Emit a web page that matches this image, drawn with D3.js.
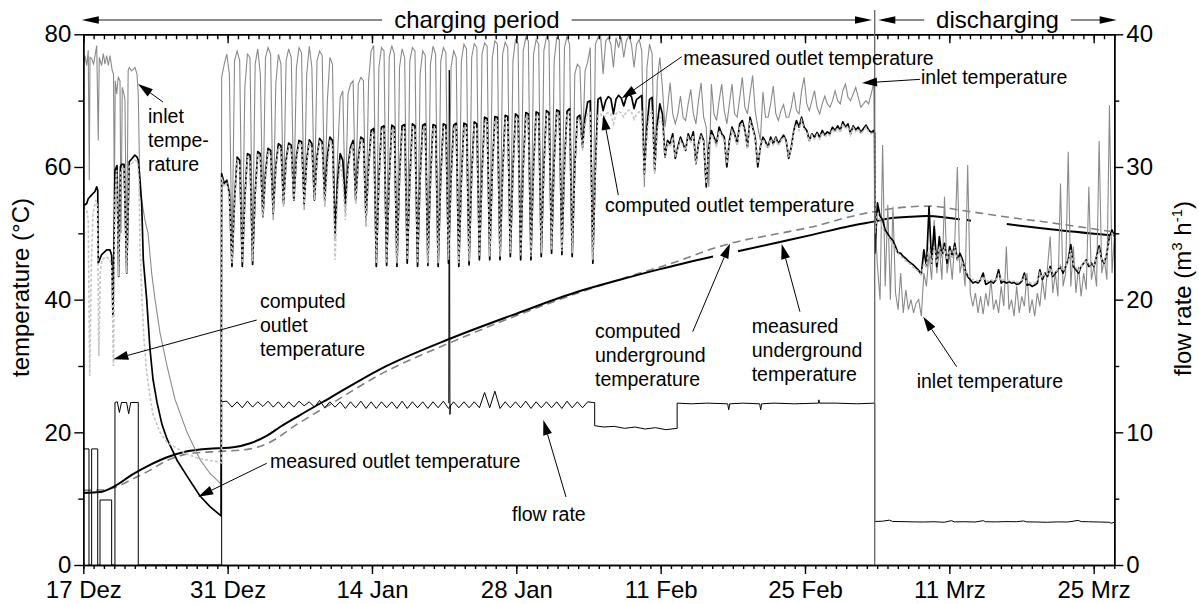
<!DOCTYPE html>
<html>
<head>
<meta charset="utf-8">
<script src="https://cdn.jsdelivr.net/npm/d3@7"></script>
<style>
body{margin:0;background:#fff;}
svg{display:block;font-family:"Liberation Sans",Arial,sans-serif;}
</style>
</head>
<body>
<svg id="chart" width="1199" height="604"></svg>
<script>
// axis ticks (x in days since 17 Dez)
var tickDays = [0, 14, 28, 42, 56, 70, 84, 98];
var tickLabels = ["17 Dez", "31 Dez", "14 Jan", "28 Jan", "11 Feb", "25 Feb", "11 Mrz", "25 Mrz"];
var tempTicks = [0, 20, 40, 60, 80];
var tempMinor = [10, 30, 50, 70];
var flowTicks = [0, 10, 20, 30, 40];
var flowMinor = [5, 15, 25, 35];

// periods (days)
var chargeEnd = 76.76;
var chargeStart = 13.42, chargeStep = 0.25;       // 4 samples per day
var dischargeStart = 76.78, dischargeStep = 0.25;
var sawStart = 13.42, sawStep = 0.5;              // flow sawtooth

// ---- first days [day, value] ----
var inletStart = [[0.02,75.5],[0.16,76.8],[0.33,75.3],[0.48,77.6],[0.58,58],[0.65,76.5],[0.81,76.3],[1.0,75.5],
  [1.3,78.3],[1.45,64],[1.55,76.5],[1.78,75.3],[1.94,77.1],[2.1,75.5],[2.27,76.8],[2.43,75.3],[2.59,76.8],
  [2.81,74.5],[2.93,74],[3.01,55],[3.1,73],[3.24,71],[3.39,73.5],[3.56,73],[3.66,50],[3.78,72],[3.95,71],
  [4.04,70],[4.21,45],[4.35,74.5],[4.46,75],[4.69,74.5],[5.01,75],[5.21,74],[5.33,71],[5.5,56],[5.66,55],
  [5.98,52],[6.28,50],[6.63,44],[6.96,40],[7.44,35],[8.12,30],[8.89,25],[10.06,20],[11.32,15.9],[12.29,13.8],[13.36,12.2]];

var outletStart = [[0.0,54],[0.16,54.3],[0.33,54.5],[0.48,55.2],[0.81,55.8],[1.13,56.3],[1.3,57],[1.4,56.5],
  [1.45,45.5],[1.78,46.8],[2.27,47.5],[2.59,47.5],[2.75,46.7],[2.88,37.5],[3.07,59.5],[3.27,60.2],[3.43,43.5],
  [3.6,60],[3.72,60.4],[3.95,60.4],[4.21,44],[4.46,60.8],[4.69,61.2],[5.01,61.8],[5.21,61.5],[5.33,61],
  [5.5,58],[5.66,54.6],[5.82,46],[6.15,40],[6.47,32.5],[6.76,28],[7.15,24.5],[7.63,21.2],[8.12,19],
  [9.09,15.8],[10.06,13.4],[11.32,10.4],[12.29,8.8],[13.36,7.4]];

var computedStart = [[0.0,54],[0.33,53.5],[0.48,52],[0.62,28.5],[0.78,45],[0.94,53],[1.23,55],[1.38,54],
  [1.5,31.5],[1.65,44],[1.81,46],[2.2,46.5],[2.59,46],[2.75,45],[2.93,30],[3.07,55],[3.24,59.5],[3.43,43.5],
  [3.62,59.5],[3.95,60],[4.21,44],[4.43,60],[4.69,60.5],[5.01,61],[5.26,60.8],[5.4,58],[5.5,48],[5.69,40],
  [5.89,34],[6.15,29],[6.47,25.5],[6.76,22.7],[7.44,20],[8.12,18.5],[10.06,16.7],[11.32,16],[13.26,15.5],[13.4,15.4]];

// ---- charging period, 4 samples per day (dip, rise, plateau, plateau) ----
var inletCharge = [
  73.5,75.5,77,74,  46,76,77.5,76,  46,72,77,76.5,  47,75.5,77.8,74,
  53,76.5,78,77,  52,72.5,77,75.5,  54,76,77.8,76.5,  55,75,78,77.2,
  53.5,74,78.2,75,  55,76,77.5,76.8,  54,70,76.5,75.5,  49,62,70.5,71.5,
  53,71,72.5,73,  54.5,72.5,73.5,73,  51,73,77.5,78.3,  45,75,78,77.5,
  45,76.5,78.3,77,  45,75,77.8,76.5,  45.5,76,78,77.5,  45,74,77.5,76.8,
  45,75.5,78.2,77,  45,76,78,77.2,  45.5,75,77.5,76.5,  45,76,78.5,77.8,
  45,76.5,78.6,78,  46,77,78.7,78.2,  46,76.5,79,78.5,  46,77,78.8,78,
  46.5,76,79.2,78.6,  46,77.5,79.5,79,  46,77,79.2,78.5,  46.5,77.5,79.6,79,
  47,76,79.5,79.2,  46.8,78,79.7,78.5,  46.5,74,75.5,75,  63,74.5,75.8,78,
  45.5,78.5,79.5,79.8,  74,79,79.5,78.5,  75,79.5,78,79.6,  76.5,79,79.8,78.5,
  75,78.5,79.2,77.5,  57,75,78.5,77,  59,73,76.5,72,  66,69,72.7,68,
  66.5,68,70.7,67.5,  67,69.5,71.7,68,  66.5,70,72.7,67.5,  66,57,72.5,68,
  67,70,72.5,68.5,  66.5,69.5,72.5,68,  67.5,70.5,73.5,69,  68,71,73.8,68.5,
  66,64,71.3,67.5,  67.5,69.5,72.2,68,  67,68.5,69.4,67.5,  67.5,69,71.3,68.5,
  68,71.5,73.5,69.5,  68.5,70,71.5,69,  68,69.5,70.7,69.5,  69,70,71.5,70,
  69.5,71.5,72.5,70.5,  70,71,72,70.5,  69,69.5,70,69.5,  71,72.7];

var outletCharge = [
  59,57.5,58,56,  45,55,61.5,61,  45,55.5,62,61.8,  45.3,56,62.3,62,
  52.5,59,62.8,62.5,  53,60,63.5,63.2,  54.5,61,63.6,63.3,  55,61.5,64,63.8,
  54.5,61,64.1,63.5,  55,61.5,64.3,63.8,  55,61.5,64.5,64,  50,58,62,61,
  54.5,60,63,64,  55,61,64.5,64.2,  52,60,65.5,65.8,  45,58,66,66.2,
  45.2,58,66.3,66,  45,58.5,66.2,66.4,  45.5,58,66.5,66.2,  45,58.5,66.3,66.5,
  45.2,58,66.4,66.2,  45,58.5,66.5,66.3,  45.5,58.5,66.3,66.6,  45,58,66.6,66.4,
  45.3,59,66.8,66.5,  46,59,67.5,67.3,  46,59.5,67.6,67.5,  46,59,67.8,67.6,
  46.5,59.5,68,67.7,  46,60,68.2,68,  46,60,68.3,68.1,  46.5,60,68.5,68.2,
  47,61,68.6,68.4,  46.8,60.5,68.4,68.8,  46.5,60,67.5,67.8,  63,67.5,69.8,70,
  45.5,60,70.2,70.5,  68.5,70,70.6,70.3,  68,70.2,70.8,70.4,  69.2,70.5,71,70.6,
  68.8,70.2,70.5,70.8,  59,66,70.2,70.5,  59.5,66.5,69.5,68,  61.5,64,63.5,65,
  61.3,63,64.5,63.5,  62.5,65,64,65.3,  60.5,63.5,65,64,  57,63,65.5,64.5,
  63.5,66,65,64.5,  60,64,66,65,  63.5,66.5,67,65.5,  63,67.5,66,64.5,
  60,63,64.5,63.8,  63,64.5,63.5,64.5,  63.5,64.2,64.8,64,  61.3,63,65.5,67,
  66,67.5,66,65.5,  64,65,64.5,65.2,  64.5,65.5,64.8,65.3,  65,66,65.5,66.2,
  65.5,66.8,66,66.5,  65,66.2,65.6,66,  65.2,65.8,66.3,65.6,  65.2,65.5];

var computedCharge = [
  58.5,57,57.5,55.5,  45.5,54.5,61,60.5,  45.5,55,61.5,61.2,  45.8,55.5,61.8,61.5,
  52.5,58.5,62.3,62,  53,59.5,63,62.7,  54,60.5,63.1,62.8,  55,61,63.5,63.3,
  54.5,60.5,63.6,63,  55,61,63.8,63.3,  54,60,63.8,63.2,  46,56,61,58,
  52,59,62.5,63.5,  54.5,60.5,64,63.7,  51.5,59.5,65,65.3,  45.5,57.5,65.5,65.7,
  45.5,57.5,65.8,65.5,  45.5,58,65.7,65.9,  46,57.5,66,65.7,  45.5,58,65.8,66,
  45.5,57.5,65.9,65.7,  45.5,58,66,65.8,  46,58,65.8,66.1,  45.5,57.5,66.1,65.9,
  45.8,58.5,66.3,66,  46.5,58.5,67,66.8,  46.5,59,67.1,67,  46.5,58.5,67.3,67.1,
  47,59,67.5,67.2,  46.5,59.5,67.7,67.5,  46.5,59.5,67.8,67.6,  47,59.5,68,67.7,
  47.5,60.5,68.1,67.9,  47.3,60,67.9,68.3,  47,59.5,67,67.3,  62.5,66.5,68,68.2,
  46,59.5,67.8,68,  67,68,68.2,68,  66.5,68,68.4,68.1,  67.5,68.3,68.6,68.3,
  67.2,68,68.3,68.5,  58.5,65,68,68.3,  59,65.5,67.5,66.5,  61.5,63.5,63,64.5,
  61.5,62.8,64,63.2,  62.5,64.5,63.8,64.8,  60.5,63.2,64.6,63.8,  57.5,62.5,65,64.2,
  63,65.5,64.7,64.2,  60.5,63.5,65.5,64.7,  63.2,66,66.5,65.2,  62.8,67,65.7,64.2,
  60.5,62.8,64.2,63.5,  62.8,64.2,63.3,64.2,  63.2,64,64.5,63.8,  61.5,62.8,65.2,66.5,
  65.5,67,65.7,65.2,  63.8,64.8,64.2,64.9,  64.2,65.2,64.5,65,  64.7,65.7,65.2,65.9,
  65.2,66.5,65.7,66.2,  64.8,65.9,65.3,65.7,  65,65.5,66,65.3,  65,65.2];

// ---- discharging period, 4 samples per day ----
var inletDischarge = [52,45,40,63.3,42,54.3,40,54,41,38.5,44,38,41.5,38.5,40,38,39.5,40,37.5,44,
  42,47,43,52,44,48,43,55.5,44,47,43,49,60,44,46,42,60.3,41,39,41,
  38,40.5,37.8,41,39,43,38.5,40,38,42,39,48,38.5,40,37.5,42,38,40.5,39,44,
  38,40,37.5,41,39,43,40,45,49.5,41,44,40.5,57.5,42,44,62.3,42,48,41,45,
  40.5,44,41.5,57,43,45,42,63.9,44,46,43,69.3,44,50];

var outletDischarge = [47,54.6,52.6,52,50.5,49.9,49.3,48.9,48,47,47,46.5,46.2,45.8,45.5,45.2,44.8,44.4,43.8,47.5,
  45,54,45.5,51,45,49.5,46.5,48.5,45.5,48,46.5,48.5,46,47,46,44.5,43.5,43,42.5,42.7,
  42.5,43,44,42.3,42.5,42.8,42.5,43,44.5,42.5,42.8,42.5,42.7,42.5,42.6,42.3,42.4,42.8,44,42.2,
  42.3,42,42.2,42.5,44.5,43,44,43.5,45,43.5,44,44.5,45,44,45,46,48.3,45,44.5,44,
  45,45.5,46,45,45.5,45,46.5,48.1,46,45.5,47,49.5,50.5,49.5];

var computedDischarge = [50,53,52,51,50,49.5,49,48.5,47.5,47,46.5,46.2,45.8,45.5,45.2,44.8,44.5,44.2,43.8,45.5,
  45,48,45.5,48,45.5,48,46.5,48,46,47.5,46.5,48,46,46.5,45.5,44.5,43.8,43.3,43,43,
  42.8,43,43.5,42.8,42.8,43,42.8,43,43.8,42.8,43,42.8,42.9,42.7,42.8,42.6,42.7,43,43.5,42.5,
  42.6,42.4,42.5,42.8,44,43.3,44,43.8,44.8,43.8,44.2,44.5,45.2,44.3,45,45.8,47.5,45.3,44.8,44.3,
  45,45.5,46,45.2,45.5,45.2,46.3,47.5,46,45.7,47,49,50,49.5];

// ---- underground temperatures [day, value], null = gap ----
var measuredUnder = [[0,10.85],[1.62,11.0],[2.88,11.75],[4.82,13.7],[6.47,15.1],[8.12,16.25],[9.67,17.0],
  [11.32,17.4],[13.0,17.6],[14.55,17.75],[16.2,18.35],[17.82,19.5],[19.08,20.8],[21.02,22.6],[23.93,25.2],
  [28.77,29.5],[35.56,34.1],[41.68,37.7],[48.17,41.3],[52.05,43.0],[55.94,44.6],[61.08,46.5],[61.3,null],
  [63.5,47.3],[67.57,48.7],[70.78,49.8],[74.37,51.1],[76.79,51.8],[78.44,52.3],[80.18,52.5],[81.83,52.6],
  [83.58,52.4],[85.03,52.1],[85.3,null],[85.7,52.0],[86.1,51.9],[86.3,null],[89.57,51.4],[93.8,50.6],[99.6,49.7]];

var computedUnder = [[0,11.25],[1.62,11.3],[2.88,11.6],[4.82,13.0],[6.47,14.3],[8.12,15.75],[9.67,16.6],
  [11.32,16.95],[13.0,17.1],[16.2,17.5],[17.82,18.3],[21.02,21.5],[23.93,24.2],[28.77,28.7],[35.56,33.5],
  [41.68,37.4],[48.17,41.1],[52.73,43.4],[57.87,45.9],[61.08,47.7],[62.73,48.46],[67.57,50.0],[70.78,51.0],
  [74.37,52.5],[76.79,53.3],[80.18,54.0],[82.12,54.1],[85.03,53.5],[88.91,52.6],[93.8,51.6],[99.6,50.3]];

// ---- flow rate (m3/h) ----
var flowStart = [[0.02,0],[0.02,8.75],[0.55,8.75],[0.55,0],[0.81,0],[0.81,8.75],[1.4,8.75],[1.4,0],
  [1.62,0],[1.62,4.9],[2.75,4.9],[2.75,0],[3.07,0],[3.07,12.25],[3.3,12.3],[3.5,11.5],[3.7,12.25],
  [4.2,12.25],[4.4,11.4],[4.6,12.25],[5.33,12.25],[5.33,0],[13.42,0]];
var flowSaw = [12.3,12.35, 11.9,12.3, 11.85,12.35, 11.9,12.3, 11.95,12.35, 11.9,12.3, 11.85,12.3,
  11.9,12.35, 12.0,12.3, 11.9,12.4, 11.85,12.3, 11.9,12.3, 11.8,12.3, 11.85,12.35, 11.8,12.3,
  11.8,12.3, 11.85,12.3, 11.8,12.35, 11.8,12.3, 11.85,12.3, 11.8,12.3, 11.85,12.35, 11.8,12.3,
  11.85,12.3, 11.85,12.3, 11.85,13.0, 11.85,13.1, 11.8,12.3, 11.85,12.3, 11.85,12.35, 11.8,12.3,
  11.85,12.3, 11.85,12.3, 11.8,12.35, 11.85,12.3, 11.85,12.3, 12.25];
var flowSpike = [[35.45,12.2],[35.5,37.3],[35.56,11.35],[35.62,12.1]];
var flowLate = [[49.6,12.25],[49.6,10.5],[50.5,10.4],[51.5,10.45],[52.5,10.3],[53.5,10.4],[54.5,10.25],
  [55.5,10.35],[56.5,10.2],[57.6,10.3],[57.6,12.2],[59,12.15],[60.5,12.2],[62.5,12.15],[62.6,11.7],
  [62.7,12.15],[64,12.2],[65.6,12.15],[65.7,11.7],[65.8,12.15],[67,12.2],[69,12.15],[71.3,12.2],
  [71.35,12.45],[71.4,12.2],[73,12.2],[75,12.15],[76.76,12.2],[76.76,3.28],[77.5,3.3],[78.2,3.38],
  [78.5,3.28],[79.5,3.27],[80.5,3.25],[81.5,3.24],[82.5,3.26],[83.5,3.22],[84.2,3.34],[84.5,3.25],
  [85.5,3.26],[86.5,3.24],[87.3,3.34],[87.5,3.26],[88.5,3.25],[89.5,3.27],[90.5,3.26],[91.2,3.32],
  [91.5,3.25],[92.5,3.24],[93.5,3.22],[94.5,3.25],[95.5,3.24],[96.5,3.36],[96.8,3.27],[97.5,3.26],
  [98.5,3.24],[99.5,3.22],[99.7,3.15],[100,3.22]];

// ---- annotations: text lines, text anchor [day, temp], arrow tail and tip [day, temp] ----
var notes = [
  {lines:["inlet","tempe-","rature"], at:[6.28,66.63], from:[7.73,69.79], to:[5.31,72.5]},
  {lines:["computed","outlet","temperature"], at:[17.14,38.74], from:[16.82,36.93], to:[2.91,31.0]},
  {lines:["measured outlet temperature"], at:[18.11,14.62], from:[17.79,15.33], to:[11.15,10.3]},
  {lines:["flow rate"], at:[41.58,6.63], from:[46.82,10.25], to:[44.62,21.86]},
  {lines:["computed","underground","temperature"], at:[49.63,34.17], from:[59.11,35.17], to:[62.73,48.46]},
  {lines:["measured","underground","temperature"], at:[64.83,35.02], from:[69.51,38.18], to:[67.74,48.39]},
  {lines:["computed outlet temperature"], at:[50.6,53.26], from:[51.89,55.77], to:[50.44,67.83]},
  {lines:["measured outlet temperature"], at:[58.2,75.37], from:[58.04,76.62], to:[52.22,70.35]},
  {lines:["inlet temperature"], at:[81.25,72.5], from:[81.15,73.21], to:[75.53,72.66]},
  {lines:["inlet temperature"], at:[80.83,26.64], from:[84.71,29.89], to:[81.47,37.43]}
];

var svg = d3.select("#chart");
var m = {left: 83.3, right: 1114.3, top: 34.3, bottom: 565};
var x = d3.scaleLinear().domain([0, 100]).range([m.left, m.right]);
var yT = d3.scaleLinear().domain([0, 80]).range([m.bottom, m.top]);
var yF = d3.scaleLinear().domain([0, 40]).range([m.bottom, m.top]);

function stepPairs(start, step, vals) {
  return vals.map(function(v, i) { return [start + i * step, v]; });
}

var inletAll = inletStart.concat(stepPairs(chargeStart, chargeStep, inletCharge), stepPairs(dischargeStart, dischargeStep, inletDischarge));
var outletAll = outletStart.concat(stepPairs(chargeStart, chargeStep, outletCharge), [[chargeEnd, 65]], stepPairs(dischargeStart, dischargeStep, outletDischarge));
var computedAll = computedStart.concat(stepPairs(chargeStart, chargeStep, computedCharge), [[chargeEnd, 64.8]], stepPairs(dischargeStart, dischargeStep, computedDischarge));
var flowAll = flowStart.concat(stepPairs(sawStart, sawStep, flowSaw), flowLate);

var lineT = d3.line().defined(function(d) { return d[1] !== null; })
  .x(function(d) { return x(d[0]); }).y(function(d) { return yT(d[1]); });
var smoothT = d3.line().defined(function(d) { return d[1] !== null; }).curve(d3.curveMonotoneX)
  .x(function(d) { return x(d[0]); }).y(function(d) { return yT(d[1]); });
var lineF = d3.line().x(function(d) { return x(d[0]); }).y(function(d) { return yF(d[1]); });

svg.append("clipPath").attr("id", "plot").append("rect")
  .attr("x", m.left).attr("y", m.top).attr("width", m.right - m.left).attr("height", m.bottom - m.top + 1);

var plot = svg.append("g").attr("clip-path", "url(#plot)").attr("fill", "none");

plot.append("path").attr("d", smoothT(computedUnder)).attr("stroke", "#808080").attr("stroke-width", 1.6).attr("stroke-dasharray", "8,5");
plot.append("path").attr("d", smoothT(measuredUnder)).attr("stroke", "#000").attr("stroke-width", 2);
plot.append("path").attr("d", lineF(flowAll)).attr("stroke", "#000").attr("stroke-width", 1);
plot.append("path").attr("d", lineF(flowSpike)).attr("stroke", "#000").attr("stroke-width", 1);
plot.append("path").attr("d", lineT(inletAll)).attr("stroke", "#8a8a8a").attr("stroke-width", 1.1);
plot.append("path").attr("d", lineT(outletAll)).attr("stroke", "#000").attr("stroke-width", 1.7).attr("stroke-linejoin", "round");
plot.append("path").attr("d", lineT(computedAll)).attr("stroke", "#c4c4c4").attr("stroke-width", 1.6).attr("stroke-dasharray", "3,2");

// axes
var font = '"Liberation Sans",Arial,sans-serif';
function styleAxis(g) {
  g.attr("font-size", 24).attr("font-family", font);
  g.selectAll("path,line").attr("stroke", "#000").attr("stroke-width", 1.4);
  g.selectAll("text").attr("fill", "#000");
}
svg.append("g").attr("transform", "translate(0," + m.bottom + ")")
  .call(d3.axisBottom(x).tickValues(d3.range(0, 101)).tickSize(4).tickFormat("").tickSizeOuter(0)).call(styleAxis);
svg.append("g").attr("transform", "translate(0," + m.bottom + ")")
  .call(d3.axisBottom(x).tickValues(tickDays).tickSize(9).tickPadding(7).tickSizeOuter(0)
    .tickFormat(function(d, i) { return tickLabels[i]; })).call(styleAxis);
svg.append("g").attr("transform", "translate(0," + m.top + ")")
  .call(d3.axisTop(x).tickValues(d3.range(0, 101)).tickSize(-5).tickFormat("").tickSizeOuter(0)).call(styleAxis);
svg.append("g").attr("transform", "translate(0," + m.top + ")")
  .call(d3.axisTop(x).tickValues(tickDays).tickSize(-9).tickFormat("").tickSizeOuter(0)).call(styleAxis);
svg.append("g").attr("transform", "translate(" + m.left + ",0)")
  .call(d3.axisLeft(yT).tickValues(tempMinor).tickSize(5).tickFormat("").tickSizeOuter(0)).call(styleAxis);
svg.append("g").attr("transform", "translate(" + m.left + ",0)")
  .call(d3.axisLeft(yT).tickValues(tempTicks).tickSize(9).tickPadding(3).tickSizeOuter(0)).call(styleAxis);
svg.append("g").attr("transform", "translate(" + m.right + ",0)")
  .call(d3.axisRight(yF).tickValues(flowMinor).tickSize(5).tickFormat("").tickSizeOuter(0)).call(styleAxis);
svg.append("g").attr("transform", "translate(" + m.right + ",0)")
  .call(d3.axisRight(yF).tickValues(flowTicks).tickSize(9).tickPadding(3).tickSizeOuter(0)).call(styleAxis);

// axis titles
svg.append("text").attr("transform", "translate(29,287.5) rotate(-90)").attr("text-anchor", "middle")
  .attr("font-size", 24).text("temperature (°C)");
var rt = svg.append("text").attr("transform", "translate(1191,288.5) rotate(-90)").attr("text-anchor", "middle").attr("font-size", 24);
rt.append("tspan").text("flow rate (m");
rt.append("tspan").attr("dy", -9).attr("font-size", 15).text("3");
rt.append("tspan").attr("dy", 9).text(" h");
rt.append("tspan").attr("dy", -9).attr("font-size", 15).text("-1");
rt.append("tspan").attr("dy", 9).text(")");

// arrow helper
function head(g, x1, y1, x2, y2, len, half) {
  var a = Math.atan2(y2 - y1, x2 - x1), c = Math.cos(a), s = Math.sin(a);
  var bx = x2 - len * c, by = y2 - len * s;
  g.append("polygon").attr("fill", "#000")
    .attr("points", [[x2, y2], [bx - half * s, by + half * c], [bx + half * s, by - half * c]].join(" "));
  return [bx, by];
}

// period header
var sepX = x(chargeEnd), hy = 20;
var hdr = svg.append("g");
hdr.append("line").attr("x1", sepX).attr("x2", sepX).attr("y1", 10).attr("y2", m.bottom).attr("stroke", "#666").attr("stroke-width", 1.3);
function span(x1, x2, label) {
  var t = hdr.append("text").attr("x", (x1 + x2) / 2).attr("y", hy + 7.5).attr("text-anchor", "middle").attr("font-size", 24).text(label);
  var w = t.node().getComputedTextLength();
  var l = (x1 + x2) / 2 - w / 2 - 12, r = (x1 + x2) / 2 + w / 2 + 12;
  hdr.append("line").attr("x1", x1 + 10).attr("x2", l).attr("y1", hy).attr("y2", hy).attr("stroke", "#666").attr("stroke-width", 1.4);
  hdr.append("line").attr("x1", r).attr("x2", x2 - 10).attr("y1", hy).attr("y2", hy).attr("stroke", "#666").attr("stroke-width", 1.4);
  head(hdr, x1 + 20, hy, x1, hy, 17, 3.8);
  head(hdr, x2 - 20, hy, x2, hy, 17, 3.8);
}
span(x(0) - 1.5, sepX - 2.7, "charging period");
span(sepX + 3.6, x(100) + 2.4, "discharging");

// annotations
var ann = svg.append("g").attr("font-size", 19.5);
notes.forEach(function(n) {
  var t = ann.append("text").attr("x", x(n.at[0])).attr("y", yT(n.at[1]));
  n.lines.forEach(function(s, i) {
    t.append("tspan").attr("x", x(n.at[0])).attr("dy", i === 0 ? 0 : 24).text(s);
  });
  var x1 = x(n.from[0]), y1 = yT(n.from[1]), x2 = x(n.to[0]), y2 = yT(n.to[1]);
  var b = head(ann, x1, y1, x2, y2, 15, 4.5);
  ann.append("line").attr("x1", x1).attr("y1", y1).attr("x2", b[0]).attr("y2", b[1]).attr("stroke", "#000").attr("stroke-width", 1);
});
</script>
</body>
</html>
